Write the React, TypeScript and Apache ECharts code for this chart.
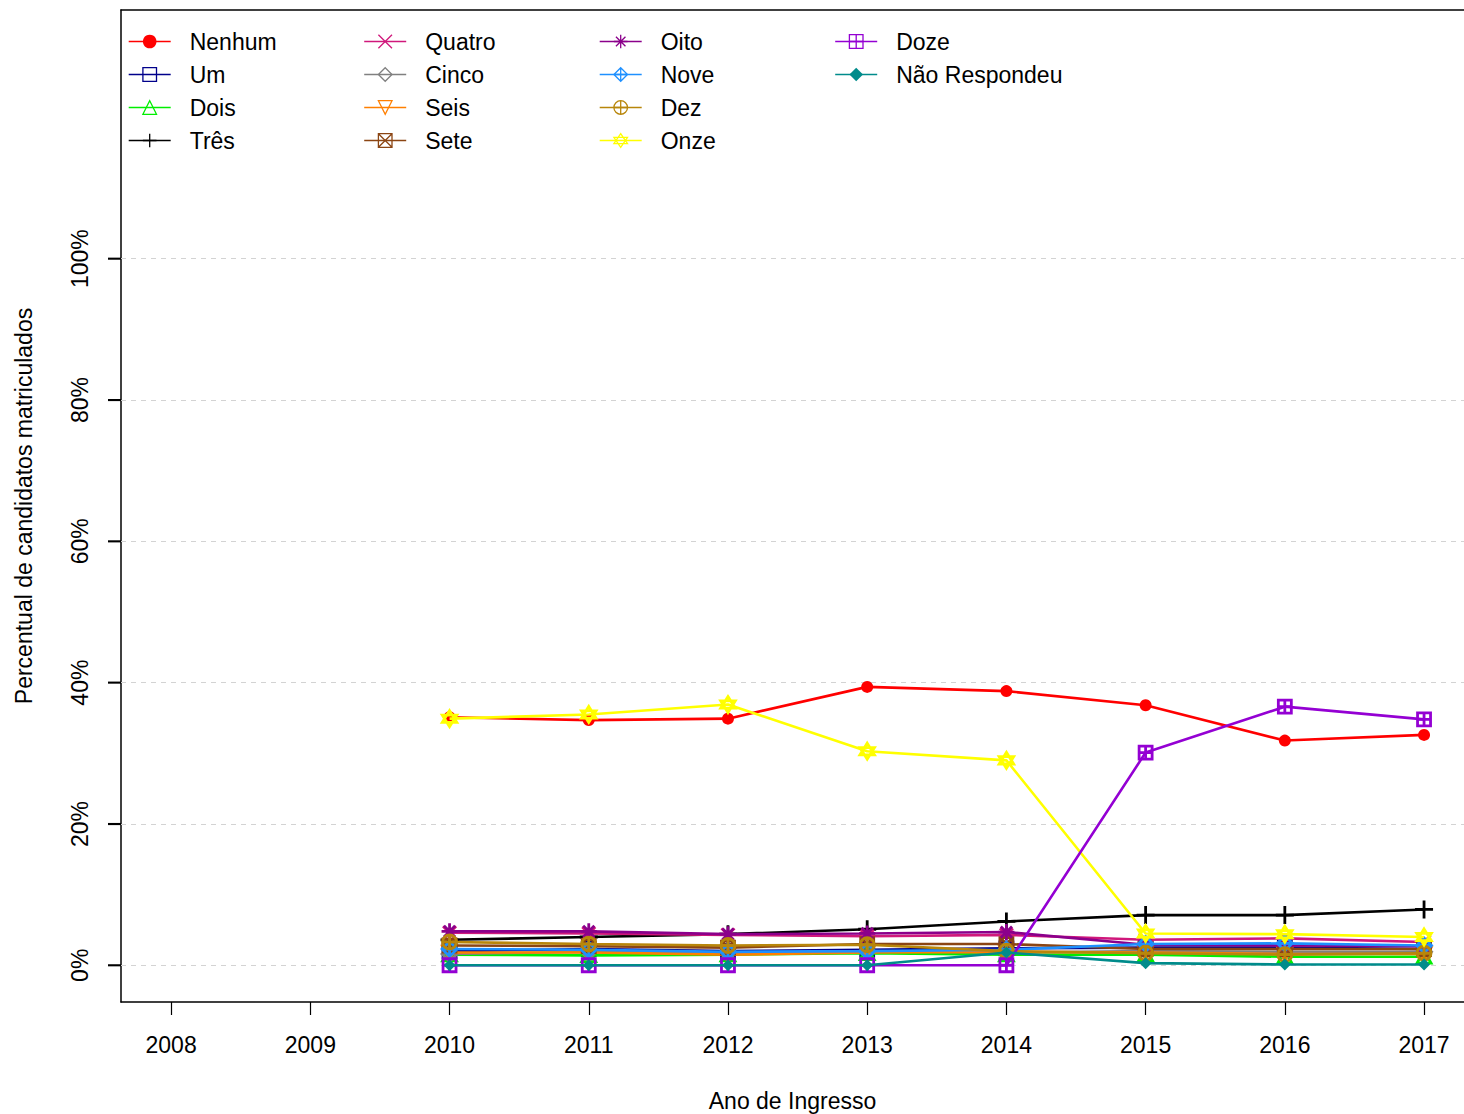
import React, { useEffect, useRef } from "react";
import * as echarts from "echarts";

const years = [2010, 2011, 2012, 2013, 2014, 2015, 2016, 2017];
const xTicks = [2008, 2009, 2010, 2011, 2012, 2013, 2014, 2015, 2016, 2017];
const yTicks = [0, 20, 40, 60, 80, 100];

const nenhum = [35.1, 34.7, 34.9, 39.4, 38.8, 36.8, 31.8, 32.6];
const um = [2.0, 2.3, 2.0, 2.2, 2.4, 2.5, 2.5, 2.3];
const dois = [1.5, 1.4, 1.5, 1.7, 1.5, 1.5, 1.2, 1.2];
const tres = [3.6, 4.0, 4.4, 5.1, 6.2, 7.1, 7.1, 7.9];
const quatro = [4.6, 4.5, 4.3, 4.1, 4.3, 3.6, 3.8, 3.3];
const cinco = [1.6, 1.9, 1.7, 2.0, 1.8, 2.0, 1.9, 1.9];
const seis = [1.8, 1.8, 1.5, 1.8, 1.9, 1.8, 1.6, 1.6];
const sete = [2.8, 2.7, 2.5, 3.0, 3.0, 2.3, 2.3, 2.3];
const oito = [4.8, 4.8, 4.4, 4.5, 4.7, 2.9, 2.8, 2.7];
const nove = [2.3, 2.2, 1.9, 2.0, 2.2, 3.0, 3.1, 2.8];
const dez = [3.3, 3.0, 2.8, 2.9, 2.0, 1.7, 1.5, 1.7];
const onze = [34.9, 35.5, 36.9, 30.3, 29.0, 4.5, 4.4, 4.0];
const doze = [0, 0, 0, 0, 0, 30.1, 36.6, 34.8];
const naoRespondeu = [0, 0, 0, 0, 1.8, 0.3, 0.1, 0.1];

const P = {
  square: "path://M0,0L10,0L10,10L0,10Z",
  triUp: "path://M5,0L10,9L0,9Z",
  plus: "path://M5,0L5,10M0,5L10,5",
  cross: "path://M0,0L10,10M0,10L10,0",
  diamond: "path://M5,0L10,5L5,10L0,5Z",
  triDown: "path://M0,0L10,0L5,9Z",
  squareX: "path://M0,0L10,0L10,10L0,10ZM0,0L10,10M0,10L10,0",
  asterisk: "path://M5,0L5,10M0,5L10,5M1.5,1.5L8.5,8.5M1.5,8.5L8.5,1.5",
  diamondPlus: "path://M5,0L10,5L5,10L0,5ZM5,0L5,10M0,5L10,5",
  circlePlus: "path://M0,5A5,5 0 1,1 10,5A5,5 0 1,1 0,5ZM5,0L5,10M0,5L10,5",
  star: "path://M5,0L10,8L0,8ZM0,3L10,3L5,11Z",
  squarePlus: "path://M0,0L10,0L10,10L0,10ZM5,0L5,10M0,5L10,5",
};

type Def = {
  name: string;
  data: number[];
  color: string;
  symbol: string;
  size: number;
  filled?: boolean;
};

const defs: Def[] = [
  { name: "Nenhum", data: nenhum, color: "#FF0000", symbol: "circle", size: 12, filled: true },
  { name: "Um", data: um, color: "#00008B", symbol: P.square, size: 13 },
  { name: "Dois", data: dois, color: "#00EE00", symbol: P.triUp, size: 14 },
  { name: "Três", data: tres, color: "#000000", symbol: P.plus, size: 18 },
  { name: "Quatro", data: quatro, color: "#D0187B", symbol: P.cross, size: 13 },
  { name: "Cinco", data: cinco, color: "#808080", symbol: P.diamond, size: 15 },
  { name: "Seis", data: seis, color: "#FF7F00", symbol: P.triDown, size: 14 },
  { name: "Sete", data: sete, color: "#8B4513", symbol: P.squareX, size: 13 },
  { name: "Oito", data: oito, color: "#8B008B", symbol: P.asterisk, size: 16 },
  { name: "Nove", data: nove, color: "#1E90FF", symbol: P.diamondPlus, size: 15 },
  { name: "Dez", data: dez, color: "#B8860B", symbol: P.circlePlus, size: 14 },
  { name: "Onze", data: onze, color: "#FFFF00", symbol: P.star, size: 16 },
  { name: "Doze", data: doze, color: "#9400D3", symbol: P.squarePlus, size: 13 },
  { name: "Não Respondeu", data: naoRespondeu, color: "#008B8B", symbol: "diamond", size: 12, filled: true },
];

const legendCols = [
  ["Nenhum", "Um", "Dois", "Três"],
  ["Quatro", "Cinco", "Seis", "Sete"],
  ["Oito", "Nove", "Dez", "Onze"],
  ["Doze", "Não Respondeu"],
];

const FONT = "'Liberation Sans', Arial, Helvetica, sans-serif";
const FS = 23;
const X_MIN = 2007.64;
const X_MAX = 2017.287;

export default function App() {
  const ref = useRef<HTMLDivElement>(null);
  useEffect(() => {
    if (!ref.current) return;
    const chart = echarts.init(ref.current, undefined, { renderer: "svg" });
    const series: any[] = defs.map((d, i) => ({
      name: d.name,
      type: "line",
      data: years.map((y, k) => [y, d.data[k]]),
      symbol: d.symbol,
      symbolSize: d.size,
      symbolKeepAspect: true,
      showAllSymbol: true,
      z: 2 + i,
      lineStyle: { color: d.color, width: 2.6 },
      itemStyle: d.filled
        ? { color: d.color, borderWidth: 0 }
        : { color: "rgba(0,0,0,0)", borderColor: d.color, borderWidth: 2.8 },
      emphasis: { disabled: true },
    }));
    series[0].markLine = {
      silent: true,
      symbol: "none",
      label: { show: false },
      lineStyle: { color: "#D3D3D3", type: [5, 5], width: 1.2 },
      data: yTicks.map((v) => ({ yAxis: v })),
      z: 1,
    };
    const legends = legendCols.map((col, c) => ({
      data: col,
      orient: "vertical",
      left: 128 + c * 235.5,
      top: 30,
      padding: 0,
      itemWidth: 42,
      itemHeight: 17,
      itemGap: 10,
      selectedMode: false,
      itemStyle: { borderWidth: 1.3 },
      lineStyle: { width: 1.4 },
      textStyle: {
        fontFamily: FONT,
        fontSize: FS,
        color: "#000",
        lineHeight: 23,
        padding: [0, 0, 0, 14],
      },
    }));
    const axisFont = { fontFamily: FONT, fontSize: FS, color: "#000" };
    chart.setOption({
      animation: false,
      backgroundColor: "#fff",
      textStyle: { fontFamily: FONT },
      legend: legends,
      grid: {
        left: 121,
        top: 10,
        right: 0,
        height: 992,
        show: false,
        containLabel: false,
        outerBoundsMode: "none",
      },
      xAxis: [
        {
          type: "value",
          min: X_MIN,
          max: X_MAX,
          name: "Ano de Ingresso",
          nameLocation: "middle",
          nameGap: 87,
          nameTextStyle: axisFont,
          axisLine: { show: true, onZero: false, lineStyle: { color: "#000", width: 1.5 } },
          axisTick: {
            show: true,
            length: 13,
            customValues: xTicks,
            lineStyle: { color: "#000", width: 1.2 },
          },
          axisLabel: {
            customValues: xTicks,
            margin: 31,
            ...axisFont,
            formatter: (v: number) => String(v),
          },
          splitLine: { show: false },
        },
        {
          type: "value",
          position: "top",
          min: X_MIN,
          max: X_MAX,
          axisLine: { show: true, onZero: false, lineStyle: { color: "#000", width: 1.5 } },
          axisTick: { show: false },
          axisLabel: { show: false },
          splitLine: { show: false },
        },
      ],
      yAxis: {
        type: "value",
        min: -5.2,
        max: 135.2,
        name: "Percentual de candidatos matriculados",
        nameLocation: "middle",
        nameRotate: 90,
        nameGap: 86,
        nameTextStyle: axisFont,
        axisLine: { show: true, onZero: false, lineStyle: { color: "#000", width: 1.5 } },
        axisTick: {
          show: true,
          length: 13,
          customValues: yTicks,
          lineStyle: { color: "#000", width: 1.2 },
        },
        axisLabel: {
          customValues: yTicks,
          rotate: 90,
          margin: 30,
          ...axisFont,
          formatter: (v: number) => `${v}%`,
        },
        splitLine: { show: false },
      },
      series,
    });
    // y-axis tick marks, positioned through the library's own scale
    const tickEls = yTicks.map((v) => {
      const p = chart.convertToPixel({ xAxisIndex: 0, yAxisIndex: 0 }, [X_MIN, v]) as number[];
      return {
        type: "line",
        shape: { x1: p[0] - 13, y1: p[1], x2: p[0], y2: p[1] },
        style: { stroke: "#000", lineWidth: 2 },
        silent: true,
        z: 100,
      };
    });
    chart.setOption({ graphic: { elements: tickEls } });
    return () => chart.dispose();
  }, []);
  return (
    <div
      ref={ref}
      style={{ position: "fixed", left: 0, top: 0, width: 1464, height: 1114, background: "#fff" }}
    />
  );
}
